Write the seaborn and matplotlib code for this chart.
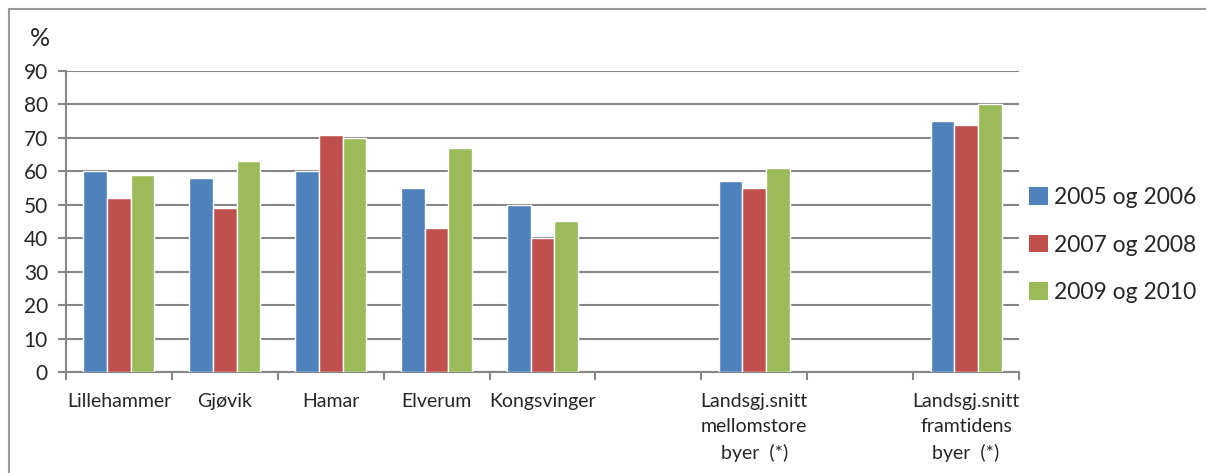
import matplotlib
matplotlib.use("Agg")
import matplotlib.pyplot as plt
from matplotlib.lines import Line2D
from matplotlib.patches import Patch
import pandas as pd
import seaborn as sns

# Category slots along the x axis (two blank slots separate the national averages)
categories = ["Lillehammer", "Gjøvik", "Hamar", "Elverum", "Kongsvinger", " ",
              "Landsgj.snitt\nmellomstore\nbyer  (*)", "  ",
              "Landsgj.snitt\nframtidens\nbyer  (*)"]
series = ["2005 og 2006", "2007 og 2008", "2009 og 2010"]

places = ["Lillehammer", "Gjøvik", "Hamar", "Elverum", "Kongsvinger",
          "Landsgj.snitt\nmellomstore\nbyer  (*)",
          "Landsgj.snitt\nframtidens\nbyer  (*)"]
v_2005_2006 = [60, 58, 60, 55, 50, 57, 75]
v_2007_2008 = [52, 49, 71, 43, 40, 55, 74]
v_2009_2010 = [59, 63, 70, 67, 45, 61, 80]

yticks = [0, 10, 20, 30, 40, 50, 60, 70, 80, 90]
colors = ["#4F81BD", "#C0504D", "#9BBB59"]

rows = []
for s, vals in zip(series, [v_2005_2006, v_2007_2008, v_2009_2010]):
    for p, v in zip(places, vals):
        rows.append({"sted": p, "periode": s, "prosent": v})
df = pd.DataFrame(rows)

sns.set_theme(style="white")
plt.rcParams["font.family"] = ["Lato", "DejaVu Sans"]

fig = plt.figure(figsize=(12.06, 4.73), dpi=100)
ax = fig.add_axes([66 / 1206, 1 - 372 / 473, (1019 - 66) / 1206, (372 - 71) / 473])

sns.barplot(data=df, x="sted", y="prosent", hue="periode", order=categories,
            hue_order=series, palette=colors, width=0.67, gap=0,
            saturation=1, legend=False, ax=ax, zorder=3)

grid_c = "#868686"
ax.set_ylim(0, 90)
ax.set_xlim(-0.5, len(categories) - 0.5)
ax.set_yticks(yticks)
ax.set_yticklabels([str(t) for t in yticks], fontsize=15)
ax.yaxis.grid(True, color=grid_c, linewidth=1.5, zorder=0)
ax.set_axisbelow(True)
ax.set_xlabel("")
ax.set_ylabel("")

ax.set_xticks(range(len(categories)))
ax.set_xticklabels(categories, fontsize=14, linespacing=1.6, va="top")
ax.tick_params(axis="x", length=0, pad=15)
ax.set_xticks([i - 0.5 for i in range(len(categories) + 1)], minor=True)
ax.tick_params(axis="x", which="minor", length=6, width=1.5, color=grid_c,
               direction="out", bottom=True)
ax.tick_params(axis="y", length=6, width=1.5, color=grid_c, direction="out",
               left=True, pad=7)

for side in ["top", "right"]:
    ax.spines[side].set_visible(False)
for side in ["left", "bottom"]:
    ax.spines[side].set_color(grid_c)
    ax.spines[side].set_linewidth(1.5)

fig.text(40 / 1206, 1 - 38 / 473, "%", fontsize=18, ha="center", va="center")

handles = [Patch(facecolor=c, edgecolor="none") for c in colors]
fig.legend(handles, series, loc="center left",
           bbox_to_anchor=(1020 / 1206, 1 - 245 / 473), frameon=False,
           fontsize=16.5, handlelength=0.8, handleheight=0.8,
           handletextpad=0.3, labelspacing=1.15, borderaxespad=0)

# Outer chart frame
frame_c = "#9a9a9a"
fig.add_artist(Line2D([9 / 1206, 1], [1 - 9 / 473, 1 - 9 / 473],
                      color=frame_c, linewidth=1.5, transform=fig.transFigure))
fig.add_artist(Line2D([9 / 1206, 9 / 1206], [0, 1 - 9 / 473],
                      color=frame_c, linewidth=1.5, transform=fig.transFigure))

fig.savefig("out.png", dpi=100)
